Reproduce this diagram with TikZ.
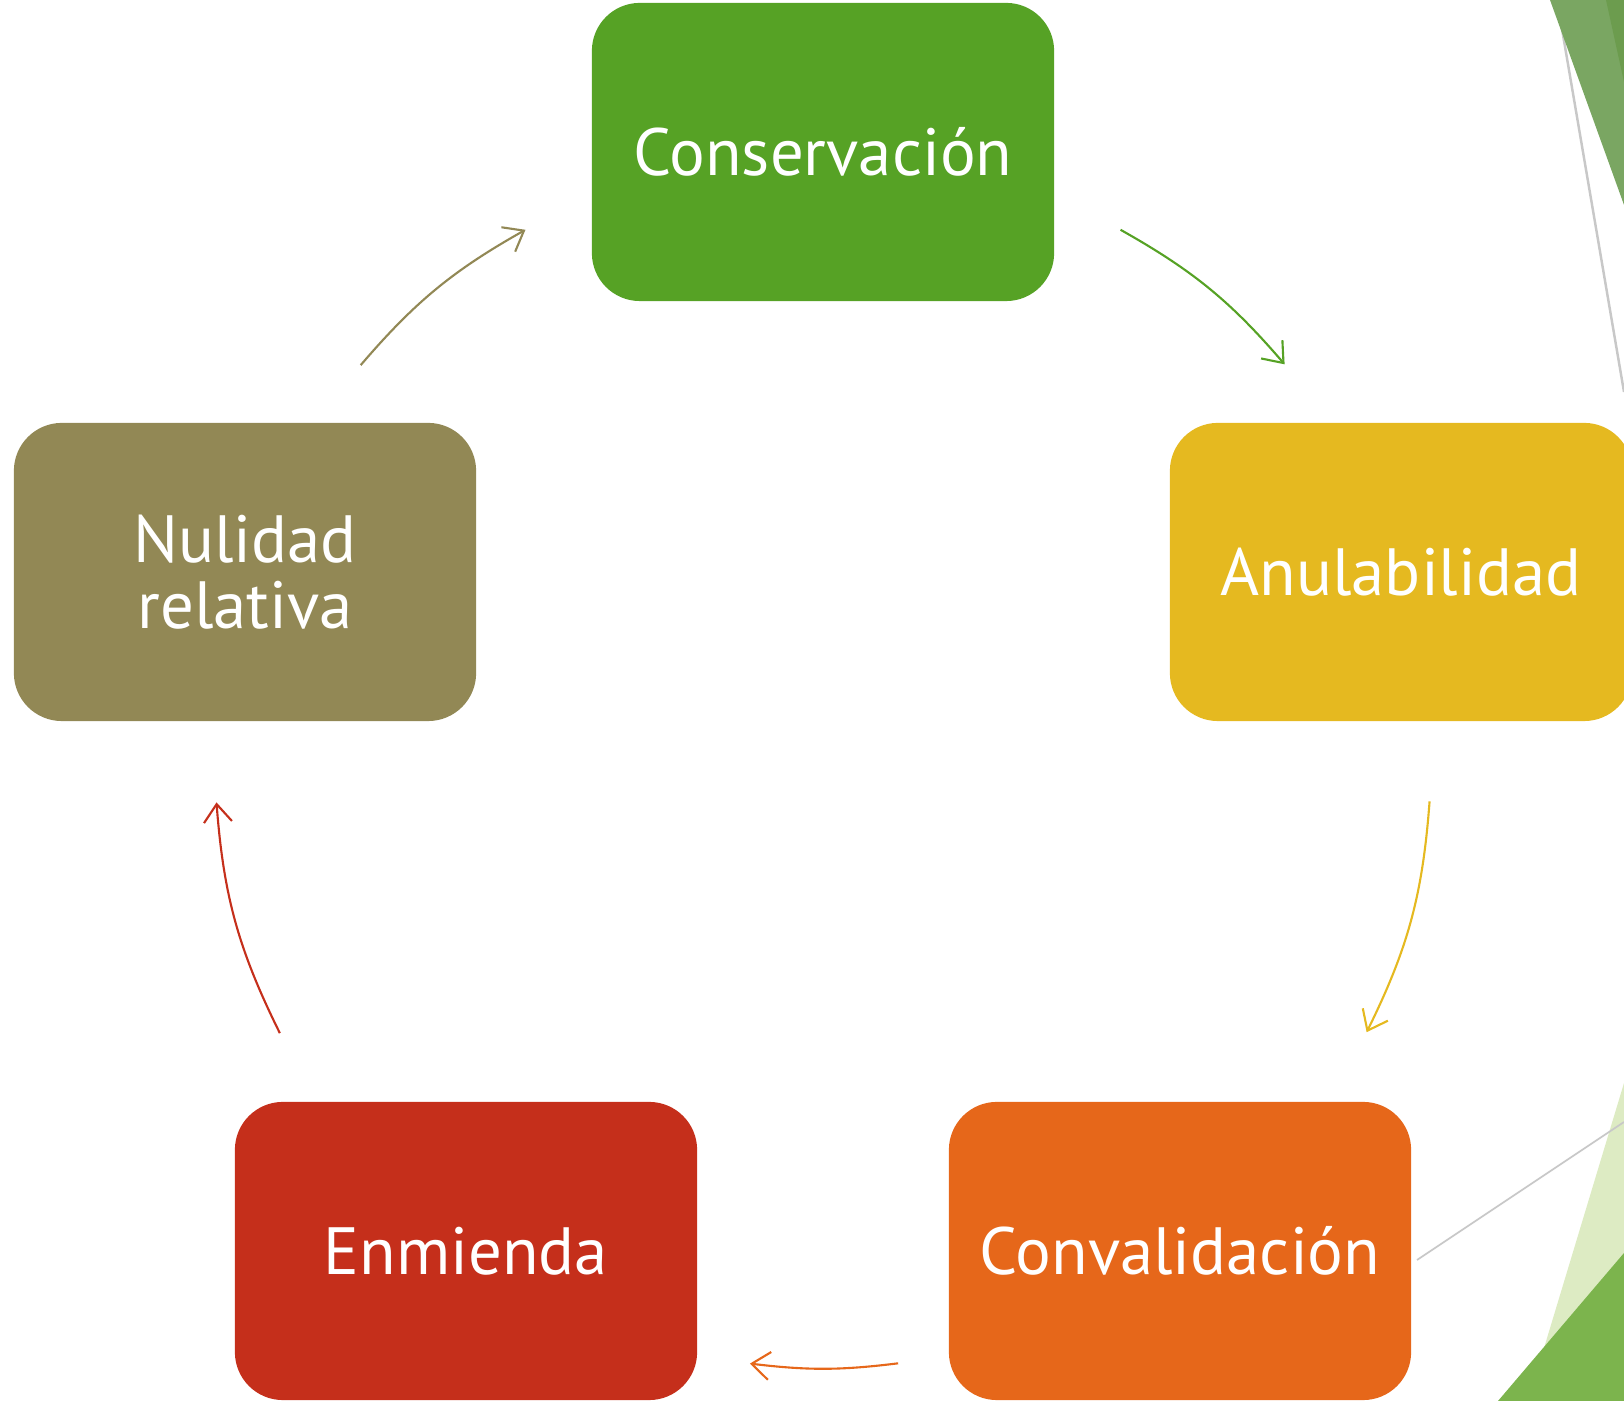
\documentclass[tikz,border=0pt]{standalone}
\usepackage{fontspec}
\setmainfont{PT Sans}
\usepackage{tikz}
\definecolor{cgreen}{RGB}{86,162,37}
\definecolor{cyellow}{RGB}{229,185,32}
\definecolor{corange}{RGB}{230,103,26}
\definecolor{cred}{RGB}{197,47,27}
\definecolor{colive}{RGB}{146,136,85}
\definecolor{leafa}{RGB}{122,166,98}
\definecolor{leafb}{RGB}{108,156,78}
\definecolor{leafc}{RGB}{221,235,195}
\definecolor{leafd}{RGB}{124,180,77}
\definecolor{rule}{RGB}{200,200,200}
\usetikzlibrary{arrows.meta,calc,positioning}

\begin{document}
\begin{tikzpicture}[x=0.01cm,y=0.01cm,
    every node/.style={rounded corners=0.48cm,minimum width=4.62cm,minimum height=2.98cm,
      inner sep=0pt,text=white,align=center,font=\fontsize{19}{18.8}\selectfont},
    flow/.style={-{Straight Barb[length=1.8mm,width=2.8mm]},line width=0.6pt}
    ]
    \clip (0,0) rectangle (1624,1401);

    % background pieces at the right edge
    \draw[rule,line width=0.7pt] (1557,1401) -- (1624,1009);
    \fill[leafa] (1550,1401) -- (1624,1196) -- (1624,1401) -- cycle;
    \fill[leafb] (1606,1401) -- (1624,1319) -- (1624,1401) -- cycle;
    \fill[leafc] (1624,318) -- (1528,0) -- (1624,0) -- cycle;
    \fill[leafd] (1624,148) -- (1498,0) -- (1624,0) -- cycle;
    \draw[rule,line width=0.5pt] (1417,141) -- (1624,279);

    \coordinate (ctr) at (823,641);

    \node (c1) [fill=cgreen] at (823,1249) {Conservación};
    \node (c2) [fill=cyellow] at (1401,829) {Anulabilidad};
    \node (c3) [fill=corange] at (1180,150) {Convalidación};
    \node (c4) [fill=cred] at (466,150) {Enmienda};
    \node (c5) [fill=colive] at (245,829) {Nulidad\\relativa};

    % the arrows
    \coordinate (g1) at ($(ctr)+(60.7:608)$);
    \coordinate (g2) at ($(ctr)+(40.6:608)$);
    \coordinate (y1) at ($(ctr)+(-3.9:608)$);
    \coordinate (y2) at ($(ctr)+(-26.6:608)$);
    \coordinate (o1) at ($(ctr)+(-82.9:608)$);
    \coordinate (o2) at ($(ctr)+(-96.9:608)$);
    \coordinate (r1) at ($(ctr)+(-153.3:608)$);
    \coordinate (r2) at ($(ctr)+(-176:608)$);
    \coordinate (n1) at ($(ctr)+(139.5:608)$);
    \coordinate (n2) at ($(ctr)+(119.3:608)$);

    \draw[flow,cgreen] (g1) to[bend left=10] (g2);
    \draw[flow,cyellow] (y1) to[bend left=11] (y2);
    \draw[flow,corange] (o1) to[bend left=7] (o2);
    \draw[flow,cred] (r1) to[bend left=11] (r2);
    \draw[flow,colive] (n1) to[bend left=10] (n2);
\end{tikzpicture}
\end{document}
